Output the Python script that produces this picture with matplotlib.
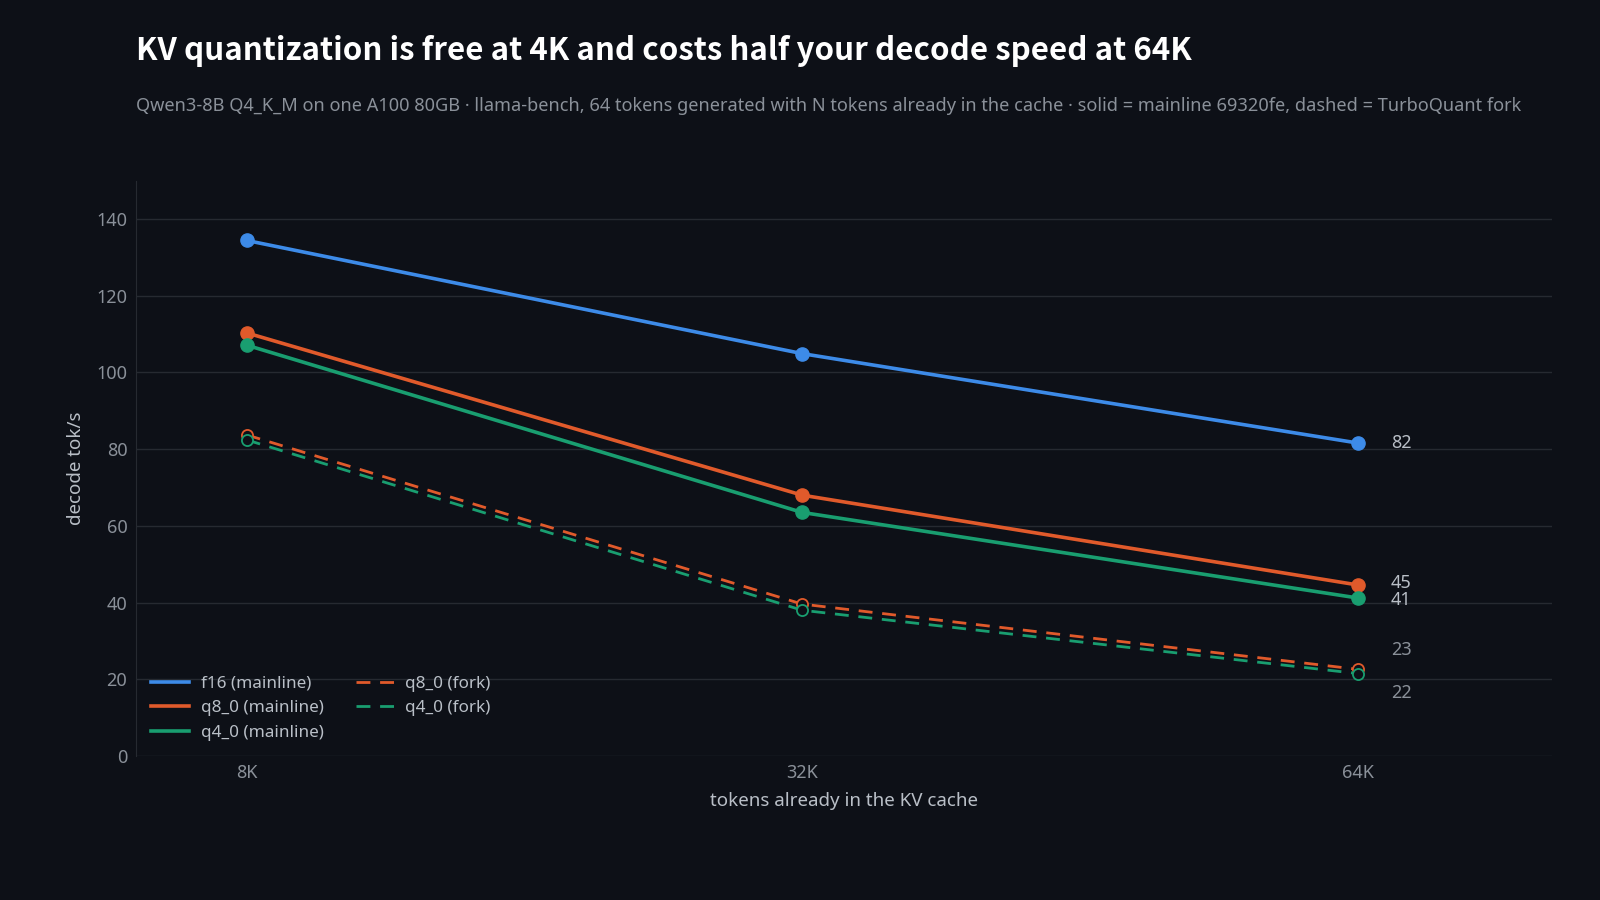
import matplotlib
matplotlib.use("Agg")
import matplotlib.pyplot as plt
from matplotlib.lines import Line2D

# values
contexts = ["8K", "32K", "64K"]
f16_main = [134.4, 104.9, 81.6]
q8_main = [110.3, 68.0, 44.6]
q4_main = [107.1, 63.5, 41.2]
q8_fork = [83.7, 39.6, 22.6]
q4_fork = [82.4, 38.0, 21.5]
end_labels = ["82", "45", "41", "23", "22"]

BG = "#0d1017"
GRID = "#262a31"
TICK = "#8a9099"
LABEL = "#b9bfc7"
BLUE = "#3d8be8"
ORANGE = "#e05a2b"
GREEN = "#199e70"
DASH = (0, (5, 3.5))

plt.rcParams["font.family"] = ["Noto Sans", "DejaVu Sans"]

fig = plt.figure(figsize=(16, 9), dpi=100, facecolor=BG)
ax = fig.add_axes([0.0848, 0.160, 0.8852, 0.6393], facecolor=BG)

x = list(range(len(contexts)))

ax.plot(x, f16_main, color=BLUE, lw=2.6, marker="o", ms=9.5)
ax.plot(x, q8_main, color=ORANGE, lw=2.6, marker="o", ms=9.5)
ax.plot(x, q4_main, color=GREEN, lw=2.6, marker="o", ms=9.5)
ax.plot(x, q8_fork, color=ORANGE, lw=2.0, ls=DASH, marker="o", ms=8,
        mfc=BG, mew=1.3)
ax.plot(x, q4_fork, color=GREEN, lw=2.0, ls=DASH, marker="o", ms=8,
        mfc=BG, mew=1.3)

# end labels, fork ones nudged apart so they don't collide
series_end = [f16_main[-1], q8_main[-1], q4_main[-1], q8_fork[-1], q4_fork[-1]]
nudge = [0, 0.6, -0.6, 5, -5]
colors = [LABEL, LABEL, LABEL, TICK, TICK]
for val, lab, dy, c in zip(series_end, end_labels, nudge, colors):
    ax.annotate(lab, (2, val + dy), xytext=(24, 0), textcoords="offset points",
                va="center", ha="left", fontsize=13, color=c,
                annotation_clip=False)

ax.set_xlim(-0.2, 2.35)
ax.set_ylim(0, 150)
ax.set_yticks(range(0, 141, 20))
ax.set_xticks(x)
ax.set_xticklabels(contexts)
ax.grid(axis="y", color=GRID, lw=1)
ax.set_axisbelow(True)
ax.tick_params(length=0, colors=TICK, labelsize=13, pad=6)
for s in ["top", "right", "bottom"]:
    ax.spines[s].set_visible(False)
ax.spines["left"].set_color(GRID)

ax.set_xlabel("tokens already in the KV cache", color=LABEL, fontsize=13.5, labelpad=7)
ax.set_ylabel("decode tok/s", color=LABEL, fontsize=13.5, labelpad=8)

handles = [
    Line2D([], [], color=BLUE, lw=2.6),
    Line2D([], [], color=ORANGE, lw=2.6),
    Line2D([], [], color=GREEN, lw=2.6),
    Line2D([], [], color=ORANGE, lw=2.0, ls=DASH),
    Line2D([], [], color=GREEN, lw=2.0, ls=DASH),
]
names = ["f16 (mainline)", "q8_0 (mainline)", "q4_0 (mainline)",
         "q8_0 (fork)", "q4_0 (fork)"]
ax.legend(handles, names, loc="lower left", ncol=2, frameon=False, fontsize=12.3,
          labelcolor=LABEL, handlelength=2.25, columnspacing=1.9,
          borderaxespad=0.5, handletextpad=0.65, labelspacing=0.5)

fig.text(0.0848, 0.943, "KV quantization is free at 4K and costs half your decode speed at 64K",
         color="white", fontsize=22.5, fontweight="bold", va="center", ha="left",
         family=["Noto Sans CJK JP", "DejaVu Sans"])
fig.text(0.0848, 0.882,
         "Qwen3-8B Q4_K_M on one A100 80GB · llama-bench, 64 tokens generated with N tokens "
         "already in the cache · solid = mainline 69320fe, dashed = TurboQuant fork",
         color=TICK, fontsize=13.1, va="center", ha="left")

fig.savefig("out.png", facecolor=BG)
